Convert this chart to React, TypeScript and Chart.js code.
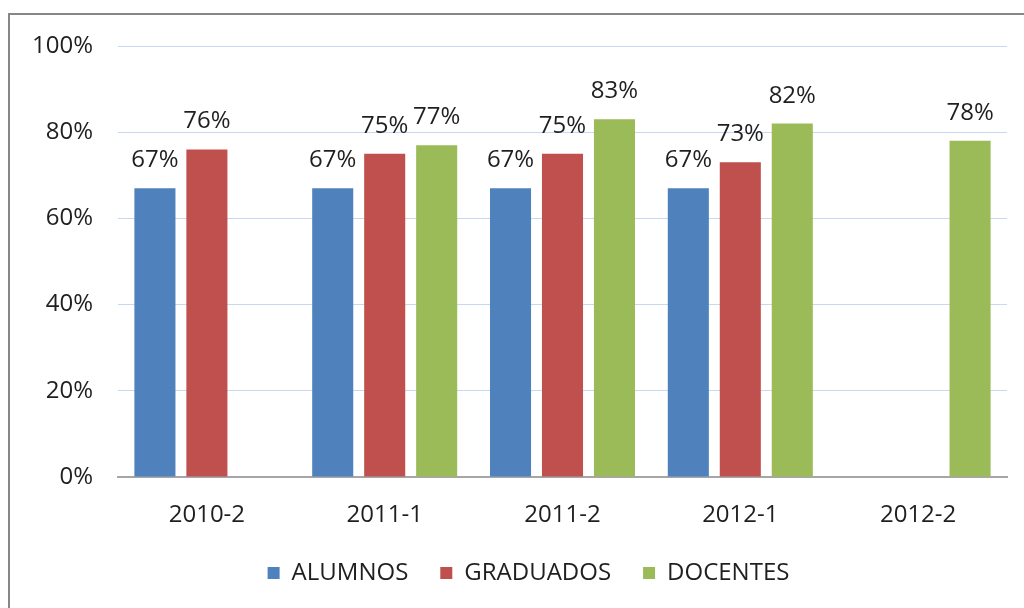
import React, { useEffect, useRef } from "react";
import { Chart, registerables } from "chart.js";

Chart.register(...registerables);

const categories = ["2010-2", "2011-1", "2011-2", "2012-1", "2012-2"];
const alumnos: (number | null)[] = [67, 67, 67, 67, null];
const graduados: (number | null)[] = [76, 75, 75, 73, null];
const docentes: (number | null)[] = [null, 77, 83, 82, 78];
const yTicks = [0, 20, 40, 60, 80, 100];

const FONT = "'Open Sans', 'Liberation Sans', sans-serif";
const TEXT = "#1f1f1f";

const dataLabels = {
  id: "dataLabels",
  afterDatasetsDraw(chart: any) {
    const ctx = chart.ctx;
    ctx.save();
    ctx.font = `24px ${FONT}`;
    ctx.fillStyle = TEXT;
    ctx.textAlign = "center";
    ctx.textBaseline = "alphabetic";
    chart.data.datasets.forEach((ds: any, i: number) => {
      const meta = chart.getDatasetMeta(i);
      meta.data.forEach((el: any, j: number) => {
        const v = ds.data[j];
        if (v === null || v === undefined) return;
        ctx.fillText(`${v}%`, el.x, el.y - 21);
      });
    });
    ctx.restore();
  },
};

const legendShift = {
  id: "legendShift",
  afterLayout(chart: any) {
    const lg = chart.legend;
    if (lg) {
      lg.left += 25;
      lg.right += 25;
    }
  },
};

export default function App() {
  const ref = useRef<HTMLCanvasElement>(null);
  useEffect(() => {
    if (!ref.current) return;
    const chart = new Chart(ref.current, {
      type: "bar",
      data: {
        labels: categories,
        datasets: [
          { label: "ALUMNOS", data: alumnos, backgroundColor: "#4F81BD" },
          { label: "GRADUADOS", data: graduados, backgroundColor: "#C0504D" },
          { label: "DOCENTES", data: docentes, backgroundColor: "#9BBB59" },
        ],
      },
      options: {
        animation: false,
        responsive: false,
        maintainAspectRatio: false,
        layout: { padding: { left: 0, right: 17, top: 46, bottom: 13 } },
        datasets: { bar: { categoryPercentage: 0.877, barPercentage: 0.79 } } as any,
        plugins: {
          tooltip: { enabled: false },
          legend: {
            position: "bottom",
            labels: {
              boxWidth: 12,
              boxHeight: 12,
              padding: 32,
              color: TEXT,
              font: { family: FONT, size: 24 },
            },
          },
        },
        scales: {
          x: {
            grid: { display: false, drawTicks: false },
            border: { display: true, color: "#A6A6A6", width: 2 },
            ticks: { padding: 24, color: TEXT, font: { family: FONT, size: 24 } },
            afterFit: (s: any) => {
              s.height = 52;
            },
          },
          y: {
            min: 0,
            max: 100,
            afterBuildTicks: (s: any) => {
              s.ticks = yTicks.map((v) => ({ value: v }));
            },
            grid: {
              drawTicks: false,
              color: (c: any) => (c.tick && c.tick.value === 0 ? "rgba(0,0,0,0)" : "#C6D9F1"),
              lineWidth: 1,
            },
            border: { display: false },
            ticks: {
              padding: 25,
              color: TEXT,
              font: { family: FONT, size: 24 },
              callback: (v: any) => `${v}%`,
            },
            afterFit: (s: any) => {
              s.width = 118;
            },
          },
        },
      },
      plugins: [dataLabels, legendShift],
    });
    return () => chart.destroy();
  }, []);
  return (
    <div style={{ position: "fixed", left: 0, top: 0, width: 1024, height: 608, background: "#fff" }}>
      <canvas ref={ref} width={1024} height={608} style={{ position: "absolute", left: 0, top: 0 }} />
      <div
        style={{
          position: "absolute",
          left: 8,
          top: 13,
          width: 1016,
          height: 595,
          borderLeft: "2px solid #878787",
          borderTop: "2px solid #878787",
          boxSizing: "border-box",
          pointerEvents: "none",
        }}
      />
    </div>
  );
}
